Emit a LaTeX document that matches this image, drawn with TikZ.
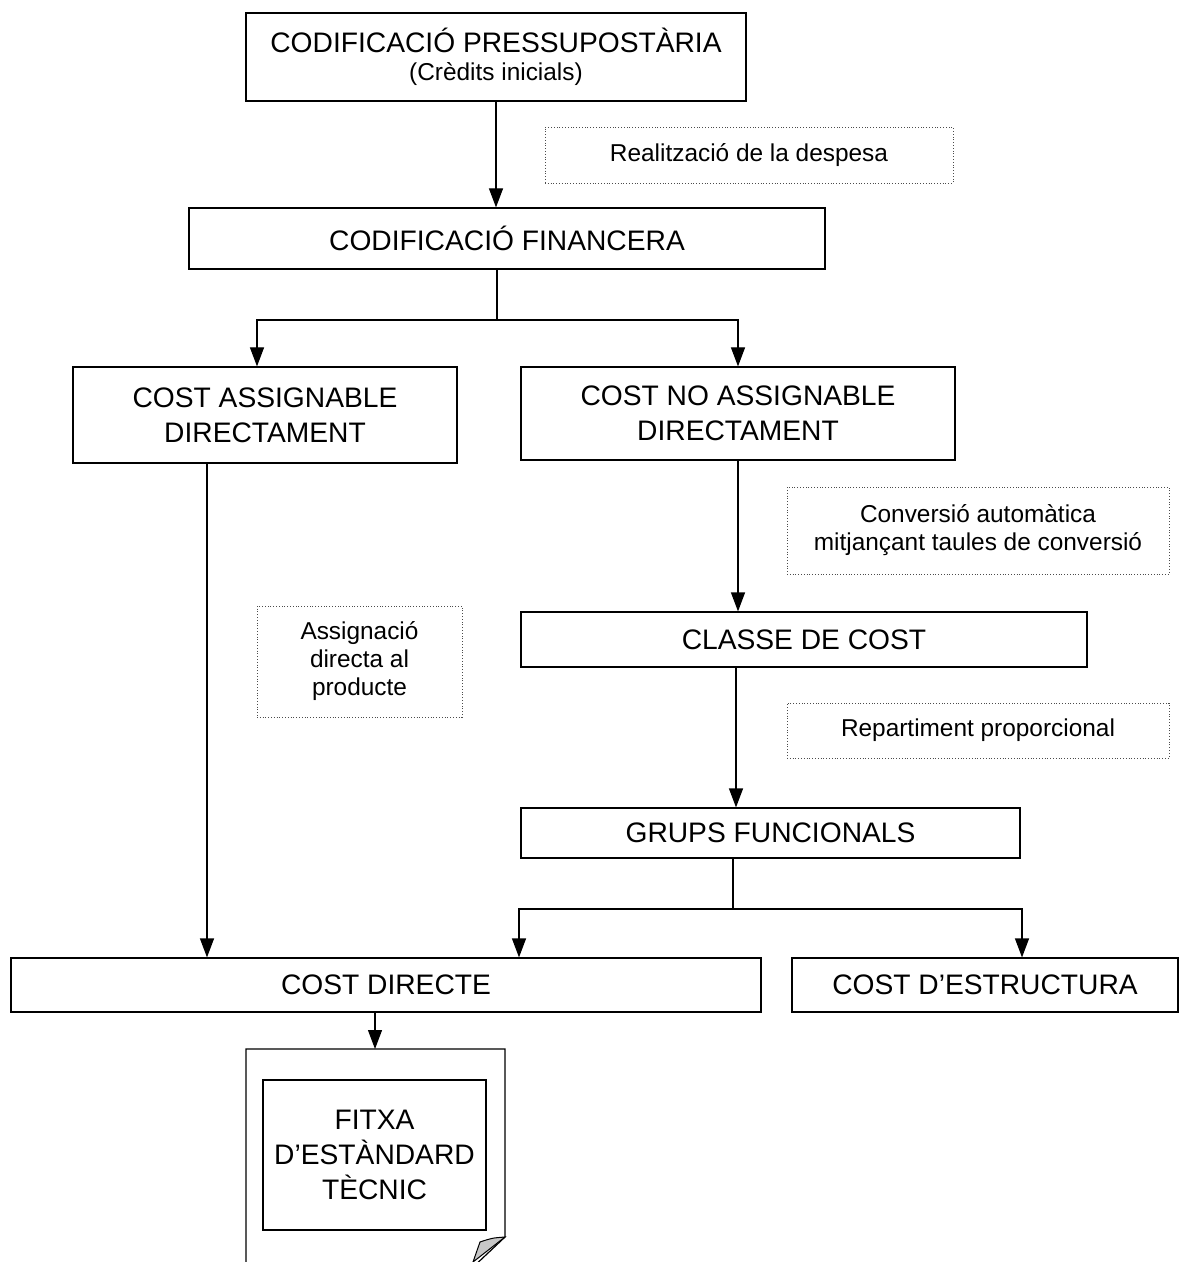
\documentclass[tikz,border=0pt]{standalone}
\usepackage{fontspec}
\setmainfont{Liberation Sans}
\usetikzlibrary{arrows.meta, shadows}
\newcommand{\bigsize}{\fontsize{14.1}{17.5}\selectfont}
\newcommand{\smallsize}{\fontsize{12.2}{14}\selectfont}

\begin{document}
\begin{tikzpicture}[x=0.5pt,y=-0.5pt,
  box/.style={draw,line width=0.6pt,fill=white,inner sep=0pt,align=center,font=\bigsize,
    drop shadow={shadow xshift=0.7pt,shadow yshift=-0.7pt,fill=black!55,opacity=1}},
  note/.style={draw=black!70,densely dotted,line width=0.4pt,inner sep=0pt,align=center,font=\smallsize},
  arr/.style={line width=0.6pt,-{Triangle[length=9.5pt,width=7pt]}}]
  \useasboundingbox (0,0) rectangle (1180,1262);
  \clip (0,0) rectangle (1180,1262);
  \path (496,57) node[box,minimum width=250pt,minimum height=44pt] (budget) {CODIFICACIÓ PRESSUPOSTÀRIA\\[-3.5pt]{\smallsize (Crèdits inicials)}}
  (507,238.5) node[box,minimum width=318pt,minimum height=30.5pt] (fin) {CODIFICACIÓ FINANCERA}
  (265,415) node[box,minimum width=192pt,minimum height=48pt] (assig) {COST ASSIGNABLE\\DIRECTAMENT}
  (738,413.5) node[box,minimum width=217pt,minimum height=46.5pt] (noassig) {COST NO ASSIGNABLE\\DIRECTAMENT}
  (804,639.5) node[box,minimum width=283pt,minimum height=27.5pt] (classe) {CLASSE DE COST}
  (770.5,833) node[box,minimum width=249.5pt,minimum height=25pt] (grups) {GRUPS FUNCIONALS}
  (386,985) node[box,minimum width=375pt,minimum height=27pt] (directe) {COST DIRECTE}
  (985,985) node[box,minimum width=193pt,minimum height=27pt] (estructura) {COST D’ESTRUCTURA};
  \path (749,155) node[note,minimum width=204pt,minimum height=28pt] (despesa) {Realització de la despesa}
  (978,530.5) node[note,minimum width=191pt,minimum height=43.5pt] (conversio) {Conversió automàtica\\mitjançant taules de conversió}
  (359.5,661.5) node[note,minimum width=102.5pt,minimum height=55.5pt] (assignacio) {Assignació\\directa al\\producte}
  (978,730.5) node[note,minimum width=191pt,minimum height=27.5pt] (repartiment) {Repartiment proporcional};
  % fitxa (document)
  \coordinate (doctop) at (375,1049);
  \draw[line width=0.6pt,fill=white] (246,1270) -- (246,1049) -- (505,1049) -- (505,1237) -- (470,1270);
  \draw[line width=0.5pt,fill=black!22] (505,1237) .. controls (492,1238) .. (480,1242) -- (473,1262) -- cycle;
  \path (374.5,1155) node[box,minimum width=111.5pt,minimum height=75pt,drop shadow={opacity=0}] (fitxa) {FITXA\\D’ESTÀNDARD\\TÈCNIC};
  % connectors
  \coordinate (fork1) at (497,320);
  \coordinate (fork2) at (733,909);
  \draw[arr] (budget.south) -- (budget.south |- fin.north);
  \draw[line width=0.6pt] (fin.south -| fork1) -- (fork1);
  \draw[arr] (fork1) -| ([xshift=-4pt]assig.north);
  \draw[arr] (fork1) -| (noassig.north);
  \draw[arr] ([xshift=-29pt]assig.south) -- ([xshift=-29pt]assig.south |- directe.north);
  \draw[arr] (noassig.south) -- (noassig.south |- classe.north);
  \draw[arr] ([xshift=-1pt]noassig.south |- classe.south) -- ([xshift=-1pt]noassig.south |- grups.north);
  \draw[line width=0.6pt] (grups.south -| fork2) -- (fork2);
  \draw[arr] (fork2) -| ([xshift=66.5pt]directe.north);
  \draw[arr] (fork2) -| ([xshift=18.5pt]estructura.north);
  \draw[arr] ([xshift=-5.5pt]directe.south) -- (doctop);
\end{tikzpicture}
\end{document}
